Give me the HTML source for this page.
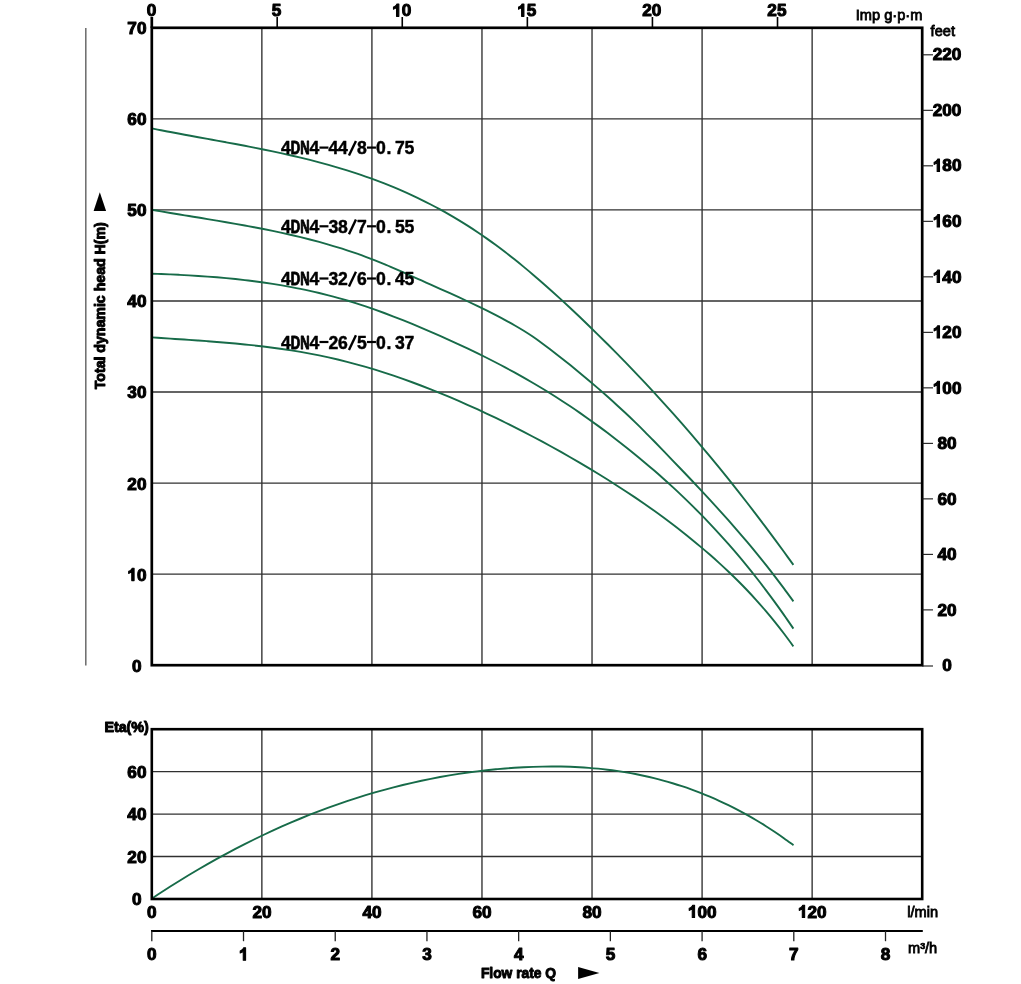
<!DOCTYPE html>
<html lang="en">
<head>
<meta charset="utf-8">
<title>Pump performance curves</title>
<style>
html,body{margin:0;padding:0;background:#fff;}
body{width:1021px;height:984px;overflow:hidden;font-family:"Liberation Sans",sans-serif;}
svg{display:block;will-change:transform;}
svg text{font-family:"Liberation Sans",sans-serif;fill:#000;}
.n{font-weight:bold;font-size:17.2px;text-anchor:middle;stroke:#000;stroke-width:1.05px;stroke-linejoin:round;}
.n1{fill:#000;stroke:#000;stroke-width:1.05px;stroke-linejoin:round;}
.u{font-size:14.6px;stroke:#000;stroke-width:0.8px;}
.t{font-weight:bold;font-size:14px;stroke:#000;stroke-width:0.95px;stroke-linejoin:round;}
.m{font-size:17.6px;font-weight:bold;text-anchor:middle;stroke:#000;stroke-width:0.45px;stroke-linejoin:round;}
</style>
</head>
<body>
<svg width="1021" height="984" viewBox="0 0 1021 984">
<rect x="0" y="0" width="1021" height="984" fill="#fff"/>
<line x1="261.86" y1="27.80" x2="261.86" y2="665.20" stroke="#363636" stroke-width="1.4"/>
<line x1="371.91" y1="27.80" x2="371.91" y2="665.20" stroke="#363636" stroke-width="1.4"/>
<line x1="481.97" y1="27.80" x2="481.97" y2="665.20" stroke="#363636" stroke-width="1.4"/>
<line x1="592.03" y1="27.80" x2="592.03" y2="665.20" stroke="#363636" stroke-width="1.4"/>
<line x1="702.09" y1="27.80" x2="702.09" y2="665.20" stroke="#363636" stroke-width="1.4"/>
<line x1="812.14" y1="27.80" x2="812.14" y2="665.20" stroke="#363636" stroke-width="1.4"/>
<line x1="151.80" y1="574.14" x2="922.20" y2="574.14" stroke="#303030" stroke-width="1.4"/>
<line x1="151.80" y1="483.09" x2="922.20" y2="483.09" stroke="#303030" stroke-width="1.4"/>
<line x1="151.80" y1="392.03" x2="922.20" y2="392.03" stroke="#303030" stroke-width="1.4"/>
<line x1="151.80" y1="300.97" x2="922.20" y2="300.97" stroke="#303030" stroke-width="1.4"/>
<line x1="151.80" y1="209.91" x2="922.20" y2="209.91" stroke="#303030" stroke-width="1.4"/>
<line x1="151.80" y1="118.86" x2="922.20" y2="118.86" stroke="#303030" stroke-width="1.4"/>
<line x1="261.86" y1="729.20" x2="261.86" y2="899.00" stroke="#363636" stroke-width="1.4"/>
<line x1="371.91" y1="729.20" x2="371.91" y2="899.00" stroke="#363636" stroke-width="1.4"/>
<line x1="481.97" y1="729.20" x2="481.97" y2="899.00" stroke="#363636" stroke-width="1.4"/>
<line x1="592.03" y1="729.20" x2="592.03" y2="899.00" stroke="#363636" stroke-width="1.4"/>
<line x1="702.09" y1="729.20" x2="702.09" y2="899.00" stroke="#363636" stroke-width="1.4"/>
<line x1="812.14" y1="729.20" x2="812.14" y2="899.00" stroke="#363636" stroke-width="1.4"/>
<line x1="151.80" y1="856.55" x2="922.20" y2="856.55" stroke="#303030" stroke-width="1.4"/>
<line x1="151.80" y1="814.10" x2="922.20" y2="814.10" stroke="#303030" stroke-width="1.4"/>
<line x1="151.80" y1="771.65" x2="922.20" y2="771.65" stroke="#303030" stroke-width="1.4"/>
<path d="M151.80,128.40 C153.35,128.71 158.00,129.64 161.10,130.25 C164.20,130.86 167.30,131.45 170.40,132.05 C173.50,132.64 176.60,133.22 179.70,133.80 C182.80,134.38 185.89,134.95 188.99,135.52 C192.09,136.09 195.19,136.66 198.29,137.22 C201.39,137.79 204.49,138.35 207.59,138.91 C210.69,139.48 213.79,140.04 216.89,140.61 C219.99,141.17 223.09,141.74 226.19,142.31 C229.29,142.88 232.39,143.45 235.49,144.04 C238.59,144.62 241.69,145.20 244.79,145.79 C247.89,146.39 250.98,146.99 254.08,147.60 C257.18,148.21 260.28,148.83 263.38,149.46 C266.48,150.09 269.58,150.72 272.68,151.38 C275.78,152.03 278.88,152.70 281.98,153.38 C285.08,154.06 288.18,154.75 291.28,155.46 C294.38,156.17 297.48,156.90 300.58,157.65 C303.68,158.39 306.78,159.15 309.88,159.94 C312.97,160.72 316.07,161.52 319.17,162.35 C322.27,163.17 325.37,164.02 328.47,164.89 C331.57,165.76 334.67,166.65 337.77,167.57 C340.87,168.49 343.97,169.43 347.07,170.40 C350.17,171.37 353.27,172.37 356.37,173.40 C359.47,174.42 362.57,175.48 365.67,176.57 C368.77,177.65 371.87,178.77 374.97,179.92 C378.06,181.07 381.16,182.25 384.26,183.46 C387.36,184.68 390.46,185.93 393.56,187.21 C396.66,188.50 399.76,189.82 402.86,191.18 C405.96,192.54 409.06,193.93 412.16,195.37 C415.26,196.81 418.36,198.28 421.46,199.80 C424.56,201.32 427.66,202.88 430.76,204.48 C433.86,206.08 436.96,207.73 440.06,209.42 C443.15,211.11 446.25,212.84 449.35,214.63 C452.45,216.41 455.55,218.24 458.65,220.11 C461.75,221.99 464.85,223.91 467.95,225.89 C471.05,227.87 474.15,229.89 477.25,231.97 C480.35,234.05 483.45,236.18 486.55,238.36 C489.65,240.55 492.75,242.78 495.85,245.07 C498.95,247.35 502.05,249.69 505.14,252.06 C508.24,254.44 511.34,256.87 514.44,259.34 C517.54,261.81 520.64,264.33 523.74,266.88 C526.84,269.44 529.94,272.03 533.04,274.67 C536.14,277.30 539.24,279.98 542.34,282.69 C545.44,285.40 548.54,288.15 551.64,290.92 C554.74,293.70 557.84,296.52 560.94,299.36 C564.04,302.20 567.14,305.08 570.23,307.98 C573.33,310.89 576.43,313.82 579.53,316.78 C582.63,319.73 585.73,322.72 588.83,325.72 C591.93,328.73 595.03,331.75 598.13,334.81 C601.23,337.86 604.33,340.93 607.43,344.03 C610.53,347.13 613.63,350.25 616.73,353.39 C619.83,356.54 622.93,359.71 626.03,362.91 C629.13,366.10 632.23,369.33 635.32,372.58 C638.42,375.83 641.52,379.10 644.62,382.41 C647.72,385.71 650.82,389.04 653.92,392.41 C657.02,395.77 660.12,399.16 663.22,402.58 C666.32,406.00 669.42,409.45 672.52,412.93 C675.62,416.41 678.72,419.92 681.82,423.47 C684.92,427.01 688.02,430.58 691.12,434.19 C694.22,437.79 697.31,441.42 700.41,445.09 C703.51,448.76 706.61,452.45 709.71,456.18 C712.81,459.91 715.91,463.67 719.01,467.47 C722.11,471.26 725.21,475.09 728.31,478.95 C731.41,482.80 734.51,486.69 737.61,490.62 C740.71,494.54 743.81,498.50 746.91,502.49 C750.01,506.48 753.11,510.50 756.21,514.56 C759.31,518.62 762.40,522.71 765.50,526.84 C768.60,530.96 771.70,535.12 774.80,539.32 C777.90,543.51 781.00,547.74 784.10,552.01 C787.20,556.27 791.85,562.75 793.40,564.90" fill="none" stroke="#176b49" stroke-width="1.9" stroke-linecap="butt"/>
<path d="M151.80,209.80 C153.35,210.06 158.00,210.87 161.10,211.39 C164.20,211.92 167.30,212.44 170.40,212.95 C173.50,213.47 176.60,213.98 179.70,214.49 C182.80,215.00 185.89,215.51 188.99,216.01 C192.09,216.52 195.19,217.03 198.29,217.54 C201.39,218.05 204.49,218.55 207.59,219.07 C210.69,219.58 213.79,220.10 216.89,220.62 C219.99,221.14 223.09,221.66 226.19,222.20 C229.29,222.73 232.39,223.27 235.49,223.82 C238.59,224.36 241.69,224.92 244.79,225.49 C247.89,226.05 250.98,226.63 254.08,227.22 C257.18,227.81 260.28,228.41 263.38,229.02 C266.48,229.64 269.58,230.26 272.68,230.91 C275.78,231.55 278.88,232.21 281.98,232.89 C285.08,233.56 288.18,234.25 291.28,234.97 C294.38,235.68 297.48,236.41 300.58,237.16 C303.68,237.92 306.78,238.69 309.88,239.49 C312.97,240.28 316.07,241.10 319.17,241.95 C322.27,242.79 325.37,243.66 328.47,244.56 C331.57,245.46 334.67,246.38 337.77,247.34 C340.87,248.29 343.97,249.28 347.07,250.29 C350.17,251.31 353.27,252.36 356.37,253.44 C359.47,254.53 362.57,255.64 365.67,256.80 C368.77,257.95 371.87,259.14 374.97,260.37 C378.06,261.59 381.16,262.86 384.26,264.15 C387.36,265.43 390.46,266.76 393.56,268.09 C396.66,269.43 399.76,270.79 402.86,272.16 C405.96,273.53 409.06,274.92 412.16,276.31 C415.26,277.69 418.36,279.09 421.46,280.48 C424.56,281.87 427.66,283.26 430.76,284.65 C433.86,286.03 436.96,287.41 440.06,288.80 C443.15,290.19 446.25,291.57 449.35,292.97 C452.45,294.37 455.55,295.77 458.65,297.19 C461.75,298.61 464.85,300.04 467.95,301.49 C471.05,302.94 474.15,304.40 477.25,305.90 C480.35,307.39 483.45,308.90 486.55,310.44 C489.65,311.98 492.75,313.55 495.85,315.15 C498.95,316.76 502.05,318.38 505.14,320.06 C508.24,321.74 511.34,323.44 514.44,325.23 C517.54,327.01 520.64,328.84 523.74,330.77 C526.84,332.70 529.94,334.69 533.04,336.81 C536.14,338.93 539.24,341.19 542.34,343.47 C545.44,345.76 548.54,348.15 551.64,350.52 C554.74,352.90 557.84,355.30 560.94,357.73 C564.04,360.16 567.14,362.62 570.23,365.11 C573.33,367.60 576.43,370.12 579.53,372.67 C582.63,375.22 585.73,377.80 588.83,380.42 C591.93,383.04 595.03,385.69 598.13,388.37 C601.23,391.06 604.33,393.78 607.43,396.54 C610.53,399.30 613.63,402.09 616.73,404.93 C619.83,407.77 622.93,410.64 626.03,413.55 C629.13,416.47 632.23,419.42 635.32,422.42 C638.42,425.42 641.52,428.46 644.62,431.56 C647.72,434.66 650.82,437.84 653.92,441.03 C657.02,444.21 660.12,447.44 663.22,450.65 C666.32,453.86 669.42,457.07 672.52,460.29 C675.62,463.51 678.72,466.73 681.82,469.97 C684.92,473.21 688.02,476.46 691.12,479.73 C694.22,483.00 697.31,486.28 700.41,489.59 C703.51,492.90 706.61,496.23 709.71,499.60 C712.81,502.96 715.91,506.35 719.01,509.78 C722.11,513.20 725.21,516.66 728.31,520.16 C731.41,523.66 734.51,527.20 737.61,530.79 C740.71,534.38 743.81,538.00 746.91,541.69 C750.01,545.37 753.11,549.10 756.21,552.89 C759.31,556.68 762.40,560.52 765.50,564.43 C768.60,568.34 771.70,572.30 774.80,576.34 C777.90,580.37 781.00,584.47 784.10,588.65 C787.20,592.83 791.85,599.27 793.40,601.40" fill="none" stroke="#176b49" stroke-width="1.9" stroke-linecap="butt"/>
<path d="M151.80,273.70 C153.35,273.76 158.00,273.92 161.10,274.04 C164.20,274.16 167.30,274.29 170.40,274.42 C173.50,274.56 176.60,274.71 179.70,274.86 C182.80,275.02 185.89,275.19 188.99,275.37 C192.09,275.55 195.19,275.74 198.29,275.94 C201.39,276.14 204.49,276.36 207.59,276.59 C210.69,276.82 213.79,277.06 216.89,277.32 C219.99,277.58 223.09,277.86 226.19,278.15 C229.29,278.44 232.39,278.74 235.49,279.07 C238.59,279.40 241.69,279.74 244.79,280.10 C247.89,280.46 250.98,280.84 254.08,281.24 C257.18,281.64 260.28,282.06 263.38,282.50 C266.48,282.95 269.58,283.41 272.68,283.90 C275.78,284.38 278.88,284.89 281.98,285.42 C285.08,285.95 288.18,286.51 291.28,287.09 C294.38,287.67 297.48,288.27 300.58,288.91 C303.68,289.54 306.78,290.19 309.88,290.88 C312.97,291.56 316.07,292.28 319.17,293.02 C322.27,293.76 325.37,294.53 328.47,295.33 C331.57,296.13 334.67,296.95 337.77,297.81 C340.87,298.67 343.97,299.56 347.07,300.49 C350.17,301.41 353.27,302.37 356.37,303.35 C359.47,304.34 362.57,305.36 365.67,306.40 C368.77,307.45 371.87,308.53 374.97,309.63 C378.06,310.73 381.16,311.86 384.26,313.01 C387.36,314.17 390.46,315.34 393.56,316.54 C396.66,317.74 399.76,318.96 402.86,320.20 C405.96,321.44 409.06,322.70 412.16,323.98 C415.26,325.26 418.36,326.55 421.46,327.86 C424.56,329.17 427.66,330.49 430.76,331.83 C433.86,333.17 436.96,334.52 440.06,335.89 C443.15,337.26 446.25,338.65 449.35,340.05 C452.45,341.45 455.55,342.87 458.65,344.31 C461.75,345.74 464.85,347.20 467.95,348.68 C471.05,350.15 474.15,351.65 477.25,353.16 C480.35,354.68 483.45,356.21 486.55,357.77 C489.65,359.33 492.75,360.91 495.85,362.52 C498.95,364.12 502.05,365.75 505.14,367.41 C508.24,369.06 511.34,370.74 514.44,372.44 C517.54,374.15 520.64,375.88 523.74,377.64 C526.84,379.40 529.94,381.19 533.04,383.00 C536.14,384.82 539.24,386.67 542.34,388.55 C545.44,390.42 548.54,392.33 551.64,394.27 C554.74,396.21 557.84,398.19 560.94,400.20 C564.04,402.20 567.14,404.25 570.23,406.32 C573.33,408.39 576.43,410.50 579.53,412.64 C582.63,414.79 585.73,416.96 588.83,419.17 C591.93,421.38 595.03,423.62 598.13,425.89 C601.23,428.16 604.33,430.47 607.43,432.81 C610.53,435.15 613.63,437.52 616.73,439.92 C619.83,442.32 622.93,444.76 626.03,447.22 C629.13,449.69 632.23,452.18 635.32,454.72 C638.42,457.25 641.52,459.81 644.62,462.42 C647.72,465.02 650.82,467.66 653.92,470.34 C657.02,473.02 660.12,475.73 663.22,478.50 C666.32,481.26 669.42,484.07 672.52,486.92 C675.62,489.77 678.72,492.67 681.82,495.62 C684.92,498.57 688.02,501.57 691.12,504.62 C694.22,507.67 697.31,510.77 700.41,513.93 C703.51,517.09 706.61,520.31 709.71,523.58 C712.81,526.86 715.91,530.19 719.01,533.58 C722.11,536.98 725.21,540.44 728.31,543.96 C731.41,547.48 734.51,551.07 737.61,554.73 C740.71,558.38 743.81,562.11 746.91,565.90 C750.01,569.70 753.11,573.56 756.21,577.51 C759.31,581.45 762.40,585.47 765.50,589.56 C768.60,593.66 771.70,597.83 774.80,602.08 C777.90,606.33 781.00,610.67 784.10,615.08 C787.20,619.50 791.85,626.34 793.40,628.59" fill="none" stroke="#176b49" stroke-width="1.9" stroke-linecap="butt"/>
<path d="M151.80,337.40 C153.35,337.50 158.00,337.81 161.10,338.02 C164.20,338.22 167.30,338.42 170.40,338.63 C173.50,338.83 176.60,339.04 179.70,339.24 C182.80,339.45 185.89,339.66 188.99,339.87 C192.09,340.08 195.19,340.30 198.29,340.52 C201.39,340.74 204.49,340.97 207.59,341.20 C210.69,341.44 213.79,341.68 216.89,341.93 C219.99,342.18 223.09,342.43 226.19,342.70 C229.29,342.97 232.39,343.25 235.49,343.54 C238.59,343.83 241.69,344.13 244.79,344.45 C247.89,344.76 250.98,345.09 254.08,345.43 C257.18,345.78 260.28,346.14 263.38,346.51 C266.48,346.89 269.58,347.28 272.68,347.69 C275.78,348.10 278.88,348.53 281.98,348.98 C285.08,349.42 288.18,349.89 291.28,350.38 C294.38,350.87 297.48,351.38 300.58,351.92 C303.68,352.45 306.78,353.01 309.88,353.59 C312.97,354.17 316.07,354.78 319.17,355.41 C322.27,356.04 325.37,356.70 328.47,357.39 C331.57,358.08 334.67,358.79 337.77,359.53 C340.87,360.27 343.97,361.04 347.07,361.84 C350.17,362.64 353.27,363.46 356.37,364.31 C359.47,365.16 362.57,366.03 365.67,366.93 C368.77,367.83 371.87,368.76 374.97,369.71 C378.06,370.66 381.16,371.63 384.26,372.63 C387.36,373.63 390.46,374.65 393.56,375.70 C396.66,376.75 399.76,377.82 402.86,378.91 C405.96,380.00 409.06,381.12 412.16,382.26 C415.26,383.40 418.36,384.56 421.46,385.74 C424.56,386.92 427.66,388.13 430.76,389.35 C433.86,390.58 436.96,391.82 440.06,393.09 C443.15,394.36 446.25,395.64 449.35,396.95 C452.45,398.26 455.55,399.59 458.65,400.93 C461.75,402.28 464.85,403.64 467.95,405.03 C471.05,406.41 474.15,407.81 477.25,409.23 C480.35,410.65 483.45,412.09 486.55,413.55 C489.65,415.00 492.75,416.47 495.85,417.97 C498.95,419.46 502.05,420.97 505.14,422.49 C508.24,424.02 511.34,425.56 514.44,427.13 C517.54,428.69 520.64,430.27 523.74,431.87 C526.84,433.47 529.94,435.09 533.04,436.72 C536.14,438.36 539.24,440.01 542.34,441.68 C545.44,443.35 548.54,445.04 551.64,446.75 C554.74,448.46 557.84,450.19 560.94,451.93 C564.04,453.68 567.14,455.44 570.23,457.23 C573.33,459.01 576.43,460.81 579.53,462.63 C582.63,464.45 585.73,466.29 588.83,468.15 C591.93,470.01 595.03,471.88 598.13,473.78 C601.23,475.68 604.33,477.60 607.43,479.54 C610.53,481.48 613.63,483.44 616.73,485.43 C619.83,487.41 622.93,489.42 626.03,491.46 C629.13,493.50 632.23,495.57 635.32,497.66 C638.42,499.76 641.52,501.88 644.62,504.03 C647.72,506.19 650.82,508.37 653.92,510.59 C657.02,512.81 660.12,515.06 663.22,517.35 C666.32,519.64 669.42,521.96 672.52,524.32 C675.62,526.68 678.72,529.08 681.82,531.52 C684.92,533.96 688.02,536.43 691.12,538.95 C694.22,541.47 697.31,544.03 700.41,546.64 C703.51,549.24 706.61,551.89 709.71,554.59 C712.81,557.29 715.91,560.04 719.01,562.85 C722.11,565.67 725.21,568.53 728.31,571.48 C731.41,574.42 734.51,577.42 737.61,580.51 C740.71,583.60 743.81,586.76 746.91,590.02 C750.01,593.28 753.11,596.61 756.21,600.05 C759.31,603.48 762.40,607.01 765.50,610.64 C768.60,614.28 771.70,618.01 774.80,621.87 C777.90,625.72 781.00,629.68 784.10,633.77 C787.20,637.85 791.85,644.29 793.40,646.39" fill="none" stroke="#176b49" stroke-width="1.9" stroke-linecap="butt"/>
<path d="M151.70,898.68 C153.25,897.66 157.90,894.57 161.00,892.55 C164.10,890.53 167.20,888.54 170.30,886.57 C173.40,884.60 176.50,882.66 179.60,880.74 C182.70,878.82 185.81,876.93 188.91,875.06 C192.01,873.20 195.11,871.35 198.21,869.53 C201.31,867.72 204.41,865.92 207.51,864.16 C210.61,862.39 213.71,860.64 216.81,858.93 C219.91,857.21 223.01,855.51 226.11,853.84 C229.21,852.18 232.31,850.53 235.41,848.91 C238.51,847.29 241.61,845.70 244.71,844.13 C247.81,842.56 250.92,841.01 254.02,839.49 C257.12,837.97 260.22,836.47 263.32,835.00 C266.42,833.53 269.52,832.08 272.62,830.65 C275.72,829.23 278.82,827.83 281.92,826.46 C285.02,825.08 288.12,823.73 291.22,822.41 C294.32,821.08 297.42,819.78 300.52,818.50 C303.62,817.22 306.72,815.97 309.82,814.74 C312.93,813.51 316.03,812.30 319.13,811.12 C322.23,809.94 325.33,808.78 328.43,807.65 C331.53,806.51 334.63,805.40 337.73,804.32 C340.83,803.23 343.93,802.17 347.03,801.13 C350.13,800.09 353.23,799.08 356.33,798.09 C359.43,797.10 362.53,796.13 365.63,795.19 C368.73,794.24 371.83,793.33 374.93,792.43 C378.04,791.53 381.14,790.66 384.24,789.81 C387.34,788.96 390.44,788.14 393.54,787.34 C396.64,786.53 399.74,785.75 402.84,785.00 C405.94,784.24 409.04,783.51 412.14,782.80 C415.24,782.10 418.34,781.41 421.44,780.75 C424.54,780.09 427.64,779.45 430.74,778.83 C433.84,778.22 436.94,777.62 440.04,777.05 C443.15,776.49 446.25,775.94 449.35,775.42 C452.45,774.89 455.55,774.39 458.65,773.91 C461.75,773.44 464.85,772.98 467.95,772.55 C471.05,772.12 474.15,771.71 477.25,771.33 C480.35,770.94 483.45,770.58 486.55,770.24 C489.65,769.90 492.75,769.58 495.85,769.28 C498.95,768.99 502.05,768.72 505.16,768.47 C508.26,768.22 511.36,767.99 514.46,767.79 C517.56,767.58 520.66,767.40 523.76,767.24 C526.86,767.08 529.96,766.95 533.06,766.84 C536.16,766.73 539.26,766.64 542.36,766.59 C545.46,766.53 548.56,766.50 551.66,766.49 C554.76,766.49 557.86,766.51 560.96,766.56 C564.06,766.62 567.16,766.70 570.27,766.81 C573.37,766.92 576.47,767.06 579.57,767.24 C582.67,767.41 585.77,767.62 588.87,767.85 C591.97,768.09 595.07,768.36 598.17,768.67 C601.27,768.97 604.37,769.31 607.47,769.69 C610.57,770.06 613.67,770.47 616.77,770.92 C619.87,771.37 622.97,771.85 626.07,772.37 C629.17,772.89 632.27,773.45 635.38,774.05 C638.48,774.65 641.58,775.29 644.68,775.97 C647.78,776.65 650.88,777.37 653.98,778.13 C657.08,778.90 660.18,779.70 663.28,780.55 C666.38,781.40 669.48,782.29 672.58,783.22 C675.68,784.16 678.78,785.14 681.88,786.16 C684.98,787.19 688.08,788.26 691.18,789.38 C694.28,790.50 697.39,791.67 700.49,792.88 C703.59,794.10 706.69,795.36 709.79,796.67 C712.89,797.99 715.99,799.35 719.09,800.77 C722.19,802.18 725.29,803.65 728.39,805.16 C731.49,806.68 734.59,808.25 737.69,809.88 C740.79,811.50 743.89,813.18 746.99,814.91 C750.09,816.65 753.19,818.43 756.29,820.28 C759.39,822.12 762.50,824.02 765.60,825.98 C768.70,827.94 771.80,829.96 774.90,832.03 C778.00,834.11 781.10,836.24 784.20,838.44 C787.30,840.63 791.95,844.08 793.50,845.20" fill="none" stroke="#176b49" stroke-width="1.9"/>
<rect x="151.80" y="27.80" width="770.40" height="637.40" fill="none" stroke="#000" stroke-width="2.7"/>
<rect x="151.80" y="729.20" width="770.40" height="169.80" fill="none" stroke="#000" stroke-width="2.6"/>
<line x1="151.00" y1="930.90" x2="922.80" y2="930.90" stroke="#000" stroke-width="2"/>
<line x1="85.8" y1="28" x2="85.8" y2="665.5" stroke="#6a6a6a" stroke-width="1.5"/>
<line x1="151.80" y1="17" x2="151.80" y2="27.80" stroke="#000" stroke-width="2.7"/>
<line x1="277.18" y1="17" x2="277.18" y2="27.80" stroke="#000" stroke-width="1.6"/>
<line x1="402.26" y1="17" x2="402.26" y2="27.80" stroke="#000" stroke-width="1.6"/>
<line x1="527.35" y1="17" x2="527.35" y2="27.80" stroke="#000" stroke-width="1.6"/>
<line x1="652.43" y1="17" x2="652.43" y2="27.80" stroke="#000" stroke-width="1.6"/>
<line x1="777.51" y1="17" x2="777.51" y2="27.80" stroke="#000" stroke-width="1.6"/>
<line x1="922.20" y1="666.00" x2="933.00" y2="666.00" stroke="#181818" stroke-width="1.1"/>
<line x1="922.20" y1="609.89" x2="933.00" y2="609.89" stroke="#181818" stroke-width="1.1"/>
<line x1="922.20" y1="554.38" x2="933.00" y2="554.38" stroke="#181818" stroke-width="1.1"/>
<line x1="922.20" y1="498.87" x2="933.00" y2="498.87" stroke="#181818" stroke-width="1.1"/>
<line x1="922.20" y1="443.37" x2="933.00" y2="443.37" stroke="#181818" stroke-width="1.1"/>
<line x1="922.20" y1="387.86" x2="933.00" y2="387.86" stroke="#181818" stroke-width="1.1"/>
<line x1="922.20" y1="332.35" x2="933.00" y2="332.35" stroke="#181818" stroke-width="1.1"/>
<line x1="922.20" y1="276.84" x2="933.00" y2="276.84" stroke="#181818" stroke-width="1.1"/>
<line x1="922.20" y1="221.33" x2="933.00" y2="221.33" stroke="#181818" stroke-width="1.1"/>
<line x1="922.20" y1="165.82" x2="933.00" y2="165.82" stroke="#181818" stroke-width="1.1"/>
<line x1="922.20" y1="110.32" x2="933.00" y2="110.32" stroke="#181818" stroke-width="1.1"/>
<line x1="922.20" y1="54.81" x2="933.00" y2="54.81" stroke="#181818" stroke-width="1.1"/>
<line x1="151.80" y1="930.90" x2="151.80" y2="941.2" stroke="#222" stroke-width="1.3"/>
<line x1="243.51" y1="930.90" x2="243.51" y2="941.2" stroke="#222" stroke-width="1.3"/>
<line x1="335.23" y1="930.90" x2="335.23" y2="941.2" stroke="#222" stroke-width="1.3"/>
<line x1="426.94" y1="930.90" x2="426.94" y2="941.2" stroke="#222" stroke-width="1.3"/>
<line x1="518.66" y1="930.90" x2="518.66" y2="941.2" stroke="#222" stroke-width="1.3"/>
<line x1="610.37" y1="930.90" x2="610.37" y2="941.2" stroke="#222" stroke-width="1.3"/>
<line x1="702.09" y1="930.90" x2="702.09" y2="941.2" stroke="#222" stroke-width="1.3"/>
<line x1="793.80" y1="930.90" x2="793.80" y2="941.2" stroke="#222" stroke-width="1.3"/>
<line x1="885.51" y1="930.90" x2="885.51" y2="941.2" stroke="#222" stroke-width="1.3"/>
<text x="136.90" y="671.66" class="n">0</text>
<path d="M134.10,580.60 L131.74,580.60 L131.74,571.71 Q130.45,572.92 128.69,573.50 L128.69,571.36 Q129.62,571.05 130.70,570.21 Q131.78,569.37 132.19,568.24 L134.10,568.24 Z" class="n1"/>
<text x="136.90" y="580.60" class="n" style="text-anchor:start">0</text>
<text x="136.90" y="489.55" class="n">20</text>
<text x="136.90" y="398.49" class="n">30</text>
<text x="136.90" y="307.43" class="n">40</text>
<text x="136.90" y="216.37" class="n">50</text>
<text x="136.90" y="125.32" class="n">60</text>
<text x="136.90" y="34.26" class="n">70</text>
<text x="947.10" y="671.06" class="n">0</text>
<text x="947.10" y="615.55" class="n">20</text>
<text x="947.10" y="560.04" class="n">40</text>
<text x="947.10" y="504.53" class="n">60</text>
<text x="947.10" y="449.03" class="n">80</text>
<path d="M939.52,393.52 L937.16,393.52 L937.16,384.62 Q935.87,385.83 934.11,386.41 L934.11,384.27 Q935.03,383.97 936.12,383.12 Q937.20,382.28 937.60,381.16 L939.52,381.16 Z" class="n1"/>
<text x="942.32" y="393.52" class="n" style="text-anchor:start">0</text>
<text x="951.88" y="393.52" class="n" style="text-anchor:start">0</text>
<path d="M939.52,338.01 L937.16,338.01 L937.16,329.12 Q935.87,330.32 934.11,330.90 L934.11,328.76 Q935.03,328.46 936.12,327.62 Q937.20,326.77 937.60,325.65 L939.52,325.65 Z" class="n1"/>
<text x="942.32" y="338.01" class="n" style="text-anchor:start">2</text>
<text x="951.88" y="338.01" class="n" style="text-anchor:start">0</text>
<path d="M939.52,282.50 L937.16,282.50 L937.16,273.61 Q935.87,274.82 934.11,275.40 L934.11,273.25 Q935.03,272.95 936.12,272.11 Q937.20,271.26 937.60,270.14 L939.52,270.14 Z" class="n1"/>
<text x="942.32" y="282.50" class="n" style="text-anchor:start">4</text>
<text x="951.88" y="282.50" class="n" style="text-anchor:start">0</text>
<path d="M939.52,226.99 L937.16,226.99 L937.16,218.10 Q935.87,219.31 934.11,219.89 L934.11,217.75 Q935.03,217.44 936.12,216.60 Q937.20,215.76 937.60,214.63 L939.52,214.63 Z" class="n1"/>
<text x="942.32" y="226.99" class="n" style="text-anchor:start">6</text>
<text x="951.88" y="226.99" class="n" style="text-anchor:start">0</text>
<path d="M939.52,171.48 L937.16,171.48 L937.16,162.59 Q935.87,163.80 934.11,164.38 L934.11,162.24 Q935.03,161.94 936.12,161.09 Q937.20,160.25 937.60,159.12 L939.52,159.12 Z" class="n1"/>
<text x="942.32" y="171.48" class="n" style="text-anchor:start">8</text>
<text x="951.88" y="171.48" class="n" style="text-anchor:start">0</text>
<text x="947.10" y="115.98" class="n">200</text>
<text x="947.10" y="60.47" class="n">220</text>
<text x="151.50" y="16.36" class="n">0</text>
<text x="276.58" y="16.36" class="n">5</text>
<path d="M398.87,16.36 L396.51,16.36 L396.51,7.47 Q395.21,8.68 393.46,9.25 L393.46,7.11 Q394.38,6.81 395.47,5.97 Q396.55,5.12 396.95,4.00 L398.87,4.00 Z" class="n1"/>
<text x="401.66" y="16.36" class="n" style="text-anchor:start">0</text>
<path d="M523.95,16.36 L521.59,16.36 L521.59,7.47 Q520.30,8.68 518.54,9.25 L518.54,7.11 Q519.46,6.81 520.55,5.97 Q521.63,5.12 522.03,4.00 L523.95,4.00 Z" class="n1"/>
<text x="526.75" y="16.36" class="n" style="text-anchor:start">5</text>
<text x="651.83" y="16.36" class="n">20</text>
<text x="776.91" y="16.36" class="n">25</text>
<text x="136.90" y="905.36" class="n">0</text>
<text x="136.90" y="862.91" class="n">20</text>
<text x="136.90" y="820.46" class="n">40</text>
<text x="136.90" y="778.01" class="n">60</text>
<text x="151.90" y="917.56" class="n">0</text>
<text x="261.96" y="917.56" class="n">20</text>
<text x="372.01" y="917.56" class="n">40</text>
<text x="482.07" y="917.56" class="n">60</text>
<text x="592.13" y="917.56" class="n">80</text>
<path d="M694.60,917.56 L692.24,917.56 L692.24,908.67 Q690.95,909.88 689.20,910.45 L689.20,908.31 Q690.12,908.01 691.20,907.17 Q692.29,906.32 692.69,905.20 L694.60,905.20 Z" class="n1"/>
<text x="697.40" y="917.56" class="n" style="text-anchor:start">0</text>
<text x="706.97" y="917.56" class="n" style="text-anchor:start">0</text>
<path d="M804.66,917.56 L802.30,917.56 L802.30,908.67 Q801.01,909.88 799.25,910.45 L799.25,908.31 Q800.18,908.01 801.26,907.17 Q802.34,906.32 802.75,905.20 L804.66,905.20 Z" class="n1"/>
<text x="807.46" y="917.56" class="n" style="text-anchor:start">2</text>
<text x="817.03" y="917.56" class="n" style="text-anchor:start">0</text>
<text x="151.90" y="960.16" class="n">0</text>
<path d="M245.60,960.16 L243.24,960.16 L243.24,951.27 Q241.95,952.48 240.19,953.05 L240.19,950.91 Q241.12,950.61 242.20,949.77 Q243.28,948.92 243.69,947.80 L245.60,947.80 Z" class="n1"/>
<text x="335.33" y="960.16" class="n">2</text>
<text x="427.04" y="960.16" class="n">3</text>
<text x="518.76" y="960.16" class="n">4</text>
<text x="610.47" y="960.16" class="n">5</text>
<text x="702.19" y="960.16" class="n">6</text>
<text x="793.90" y="960.16" class="n">7</text>
<text x="885.61" y="960.16" class="n">8</text>
<text x="922.3" y="20.2" class="u" text-anchor="end">Imp g·p·m</text>
<text x="930.6" y="36.0" class="u">feet</text>
<text x="907.2" y="916.8" class="u">l/min</text>
<text x="908.0" y="953.2" class="u">m³/h</text>
<text x="148.8" y="732.0" class="t" text-anchor="end" textLength="44.4" lengthAdjust="spacingAndGlyphs">Eta(%)</text>
<text x="480.9" y="977.6" class="t" textLength="75.2" lengthAdjust="spacingAndGlyphs">Flow rate Q</text>
<polygon points="578.1,967.1 578.1,979.1 599.4,973.1" fill="#000"/>
<text transform="translate(104.9,389.3) rotate(-90)" class="t" textLength="167.1" lengthAdjust="spacingAndGlyphs">Total dynamic head H(m)</text>
<polygon points="99.8,192.3 93.6,211 106.1,211" fill="#000"/>
<text x="285.95" y="154.30" class="m">4</text>
<text transform="translate(295.45,154.30) scale(0.74,1)" class="m" style="stroke-width:0.95px">D</text>
<text transform="translate(304.95,154.30) scale(0.74,1)" class="m" style="stroke-width:0.95px">N</text>
<text x="314.45" y="154.30" class="m">4</text>
<line x1="319.45" y1="147.60" x2="328.45" y2="147.60" stroke="#000" stroke-width="2.2"/>
<text x="333.45" y="154.30" class="m">4</text>
<text x="342.95" y="154.30" class="m">4</text>
<line x1="348.95" y1="155.50" x2="355.95" y2="140.90" stroke="#000" stroke-width="2.4"/>
<text x="361.95" y="154.30" class="m">8</text>
<line x1="366.95" y1="147.60" x2="375.95" y2="147.60" stroke="#000" stroke-width="2.2"/>
<text x="380.95" y="154.30" class="m">0</text>
<text x="388.90" y="154.30" class="m">.</text>
<text x="399.95" y="154.30" class="m">7</text>
<text x="409.45" y="154.30" class="m">5</text>
<text x="285.95" y="233.00" class="m">4</text>
<text transform="translate(295.45,233.00) scale(0.74,1)" class="m" style="stroke-width:0.95px">D</text>
<text transform="translate(304.95,233.00) scale(0.74,1)" class="m" style="stroke-width:0.95px">N</text>
<text x="314.45" y="233.00" class="m">4</text>
<line x1="319.45" y1="226.30" x2="328.45" y2="226.30" stroke="#000" stroke-width="2.2"/>
<text x="333.45" y="233.00" class="m">3</text>
<text x="342.95" y="233.00" class="m">8</text>
<line x1="348.95" y1="234.20" x2="355.95" y2="219.60" stroke="#000" stroke-width="2.4"/>
<text x="361.95" y="233.00" class="m">7</text>
<line x1="366.95" y1="226.30" x2="375.95" y2="226.30" stroke="#000" stroke-width="2.2"/>
<text x="380.95" y="233.00" class="m">0</text>
<text x="388.90" y="233.00" class="m">.</text>
<text x="399.95" y="233.00" class="m">5</text>
<text x="409.45" y="233.00" class="m">5</text>
<text x="285.95" y="285.20" class="m">4</text>
<text transform="translate(295.45,285.20) scale(0.74,1)" class="m" style="stroke-width:0.95px">D</text>
<text transform="translate(304.95,285.20) scale(0.74,1)" class="m" style="stroke-width:0.95px">N</text>
<text x="314.45" y="285.20" class="m">4</text>
<line x1="319.45" y1="278.50" x2="328.45" y2="278.50" stroke="#000" stroke-width="2.2"/>
<text x="333.45" y="285.20" class="m">3</text>
<text x="342.95" y="285.20" class="m">2</text>
<line x1="348.95" y1="286.40" x2="355.95" y2="271.80" stroke="#000" stroke-width="2.4"/>
<text x="361.95" y="285.20" class="m">6</text>
<line x1="366.95" y1="278.50" x2="375.95" y2="278.50" stroke="#000" stroke-width="2.2"/>
<text x="380.95" y="285.20" class="m">0</text>
<text x="388.90" y="285.20" class="m">.</text>
<text x="399.95" y="285.20" class="m">4</text>
<text x="409.45" y="285.20" class="m">5</text>
<text x="285.95" y="348.70" class="m">4</text>
<text transform="translate(295.45,348.70) scale(0.74,1)" class="m" style="stroke-width:0.95px">D</text>
<text transform="translate(304.95,348.70) scale(0.74,1)" class="m" style="stroke-width:0.95px">N</text>
<text x="314.45" y="348.70" class="m">4</text>
<line x1="319.45" y1="342.00" x2="328.45" y2="342.00" stroke="#000" stroke-width="2.2"/>
<text x="333.45" y="348.70" class="m">2</text>
<text x="342.95" y="348.70" class="m">6</text>
<line x1="348.95" y1="349.90" x2="355.95" y2="335.30" stroke="#000" stroke-width="2.4"/>
<text x="361.95" y="348.70" class="m">5</text>
<line x1="366.95" y1="342.00" x2="375.95" y2="342.00" stroke="#000" stroke-width="2.2"/>
<text x="380.95" y="348.70" class="m">0</text>
<text x="388.90" y="348.70" class="m">.</text>
<text x="399.95" y="348.70" class="m">3</text>
<text x="409.45" y="348.70" class="m">7</text>
</svg>
</body>
</html>
